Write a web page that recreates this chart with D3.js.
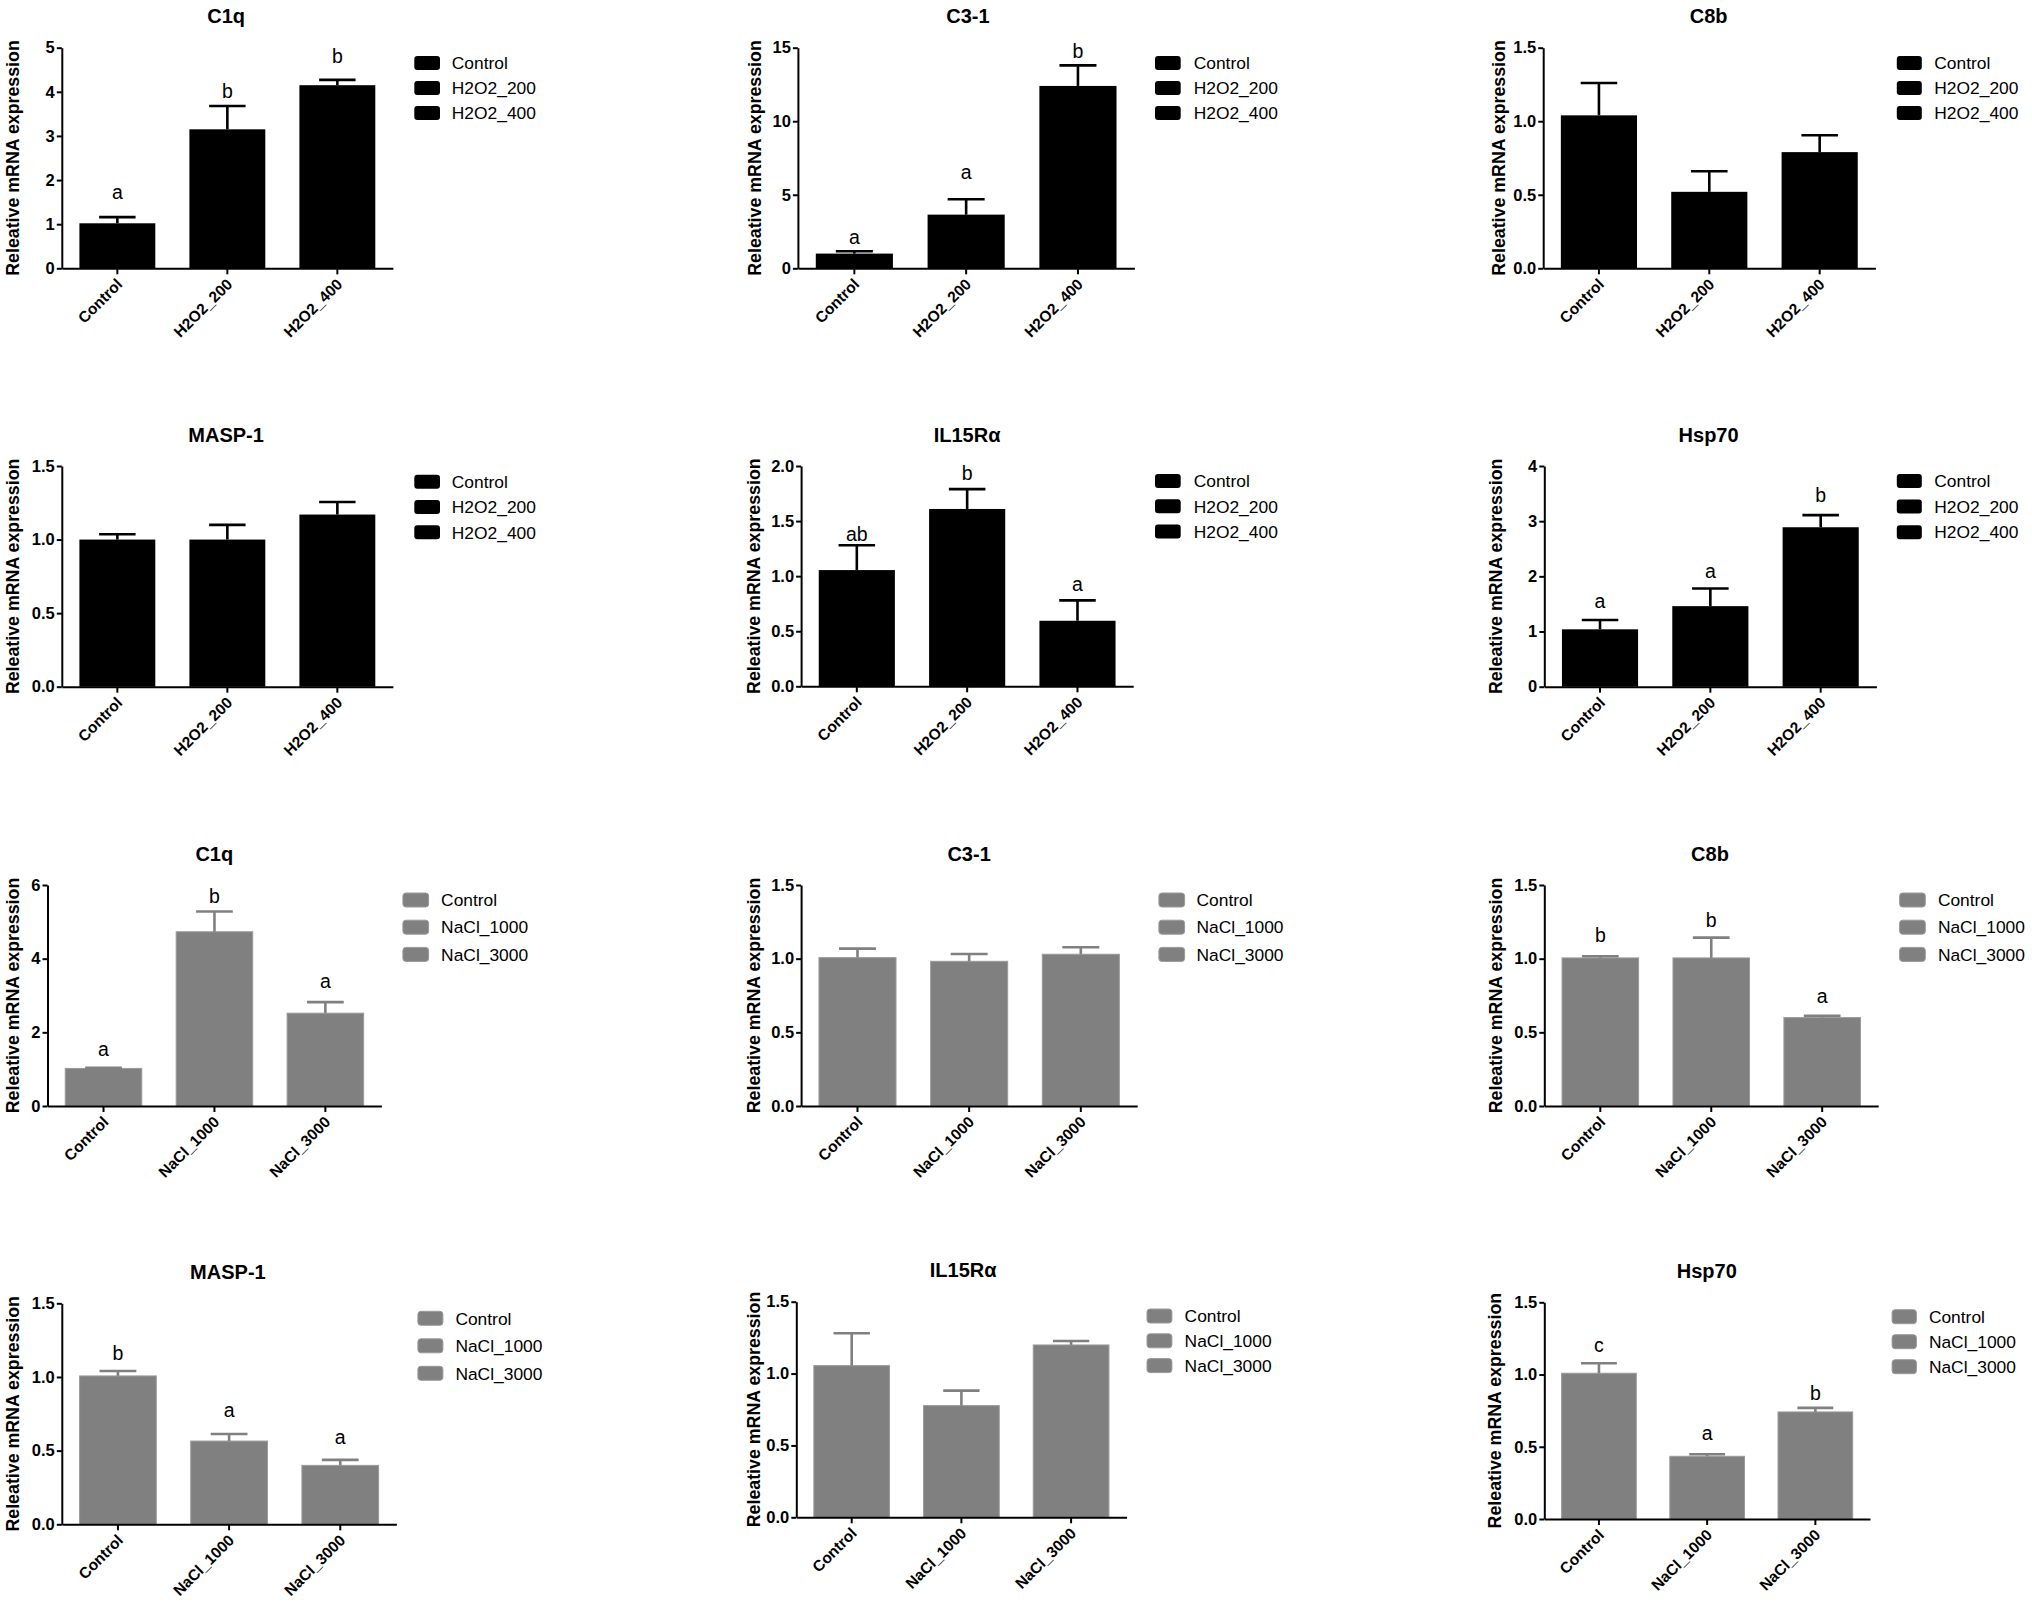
<!DOCTYPE html>
<html>
<head>
<meta charset="utf-8">
<script src="https://cdn.jsdelivr.net/npm/d3@7/dist/d3.min.js"></script>
<style>
  html, body { margin: 0; padding: 0; background: #fff; }
  svg { display: block; }
  text { font-family: "Liberation Sans", Arial, Helvetica, sans-serif; }
</style>
</head>
<body>
<svg id="chart" width="2032" height="1608"></svg>
<script>
// ---------------- DATA ----------------
const genes = ["C1q", "C3-1", "C8b", "MASP-1", "IL15Rα", "Hsp70"];
const h2o2Groups = ["Control", "H2O2_200", "H2O2_400"];
const naclGroups = ["Control", "NaCl_1000", "NaCl_3000"];
const yTitle = "Releative mRNA expression";

// H2O2 experiment (black bars)
const h2o2Mean = [
  [1.02, 3.15, 4.15],
  [1.00, 3.65, 12.4],
  [1.04, 0.52, 0.79],
  [1.00, 1.00, 1.17],
  [1.055, 1.61, 0.595],
  [1.04, 1.46, 2.89]
];
const h2o2Err = [
  [0.14, 0.53, 0.12],
  [0.16, 1.05, 1.40],
  [0.22, 0.14, 0.115],
  [0.036, 0.10, 0.085],
  [0.225, 0.18, 0.185],
  [0.17, 0.32, 0.22]
];
const h2o2Letters = [
  ["a", "b", "b"],
  ["a", "a", "b"],
  null,
  null,
  ["ab", "b", "a"],
  ["a", "a", "b"]
];
const h2o2LetterPos = [
  [1.70, 3.99, 4.79],
  [2.09, 6.49, 14.72],
  null,
  null,
  [1.37, 1.93, 0.92],
  [1.53, 2.07, 3.45]
];
const h2o2YMax = [5, 15, 1.5, 1.5, 2.0, 4];
const h2o2YStep = [1, 5, 0.5, 0.5, 0.5, 1];

// NaCl experiment (grey bars)
const naclMean = [
  [1.02, 4.73, 2.52],
  [1.007, 0.982, 1.03],
  [1.005, 1.005, 0.60],
  [1.007, 0.565, 0.40],
  [1.055, 0.777, 1.199],
  [1.009, 0.434, 0.741]
];
const naclErr = [
  [0.02, 0.55, 0.30],
  [0.061, 0.05, 0.047],
  [0.011, 0.138, 0.013],
  [0.033, 0.048, 0.037],
  [0.225, 0.104, 0.028],
  [0.069, 0.014, 0.028]
];
const naclLetters = [
  ["a", "b", "a"],
  null,
  ["b", "b", "a"],
  ["b", "a", "a"],
  null,
  ["c", "a", "b"]
];
const naclLetterPos = [
  [1.52, 5.68, 3.36],
  null,
  [1.154, 1.258, 0.742],
  [1.154, 0.769, 0.588],
  null,
  [1.195, 0.587, 0.868]
];
const naclYMax = [6, 1.5, 1.5, 1.5, 1.5, 1.5];
const naclYStep = [2, 0.5, 0.5, 0.5, 0.5, 0.5];

// ---------------- LAYOUT (positions only) ----------------
// x0,x1: axis extent; top,bottom: y range; tx: title centre; lx: y-title centre;
// sx: legend swatch x; sw: swatch width; gx: legend text x; ly: first legend row; lg: legend gap
const layoutH2O2 = [
  {x0: 61.8,   x1: 392.9,  top: 47.7,   bottom: 268.3,  tx: 226.1,  lx: 13.6,  sx: 414.3,  sw: 25.7, gx: 451.8,  ly: 63,     lg: 25},
  {x0: 797.9,  x1: 1134.4, top: 47.7,   bottom: 268.3,  tx: 967.9,  lx: 755.6, sx: 1155,   sw: 25.7, gx: 1193.7, ly: 63,     lg: 25},
  {x0: 1543.2, x1: 1875.4, top: 47.7,   bottom: 268.3,  tx: 1708.6, lx: 1499.6,sx: 1896.8, sw: 25,   gx: 1934.3, ly: 63,     lg: 25},
  {x0: 61.8,   x1: 392.9,  top: 466,    bottom: 686.7,  tx: 226.1,  lx: 13.6,  sx: 414.3,  sw: 25.7, gx: 451.8,  ly: 481.7,  lg: 25.3},
  {x0: 801.1,  x1: 1133.2, top: 466,    bottom: 686.3,  tx: 967.1,  lx: 754.8, sx: 1155,   sw: 25.7, gx: 1193.7, ly: 481,    lg: 25.3},
  {x0: 1544.3, x1: 1876.4, top: 466,    bottom: 686.7,  tx: 1708.6, lx: 1496.8,sx: 1896.8, sw: 25,   gx: 1934.3, ly: 481,    lg: 25.6}
];
const layoutNaCl = [
  {x0: 47.5,   x1: 381.4,  top: 885,    bottom: 1106,   tx: 214.3,  lx: 13.6,  sx: 402.9,  sw: 25.7, gx: 441.1,  ly: 900,    lg: 27.2},
  {x0: 801.1,  x1: 1137.2, top: 885,    bottom: 1106,   tx: 969.1,  lx: 754.8, sx: 1158.9, sw: 25.7, gx: 1196.5, ly: 900,    lg: 27.2},
  {x0: 1544.3, x1: 1878.2, top: 885,    bottom: 1106,   tx: 1710,   lx: 1496.8,sx: 1899.6, sw: 25.7, gx: 1937.9, ly: 900,    lg: 27.2},
  {x0: 61.8,   x1: 396.4,  top: 1303.3, bottom: 1524.3, tx: 227.9,  lx: 13.6,  sx: 417.9,  sw: 25,   gx: 455.4,  ly: 1318.3, lg: 27.5},
  {x0: 796.3,  x1: 1126.5, top: 1301.7, bottom: 1517.3, tx: 963.2,  lx: 754.8, sx: 1147,   sw: 24.9, gx: 1184.6, ly: 1316,   lg: 24.8},
  {x0: 1544.3, x1: 1870,   top: 1302.3, bottom: 1519,   tx: 1706.8, lx: 1496,  sx: 1892.1, sw: 24.3, gx: 1928.9, ly: 1316.7, lg: 25}
];

// ---------------- DRAW ----------------
const svg = d3.select("#chart");
svg.append("rect").attr("width", 2032).attr("height", 1608).attr("fill", "#fff");
const FONT = '"Liberation Sans", Arial, Helvetica, sans-serif';

function drawPanel(gene, groups, means, errs, letters, letterPos, yMax, yStep, L, color, edge) {
  const g = svg.append("g");
  const x = d3.scaleBand().domain(groups).range([L.x0, L.x1]).paddingInner(0.31).paddingOuter(0.16);
  const y = d3.scaleLinear().domain([0, yMax]).range([L.bottom, L.top]);
  const bw = x.bandwidth();
  const rows = groups.map((k, i) => ({k, m: means[i], e: errs[i], lab: letters ? letters[i] : null, lp: letterPos ? letterPos[i] : null}));

  // title
  g.append("text").attr("x", L.tx).attr("y", L.top - 24.5)
    .attr("text-anchor", "middle").attr("font-weight", "bold").attr("font-size", 20)
    .attr("fill", "#000").text(gene);

  // y title
  g.append("text")
    .attr("transform", `translate(${L.lx},${(L.top + L.bottom) / 2}) rotate(-90)`)
    .attr("dy", "0.28em")
    .attr("text-anchor", "middle").attr("font-weight", "bold").attr("font-size", 17.8)
    .attr("fill", "#000").text(yTitle);

  // bars
  g.selectAll("rect.bar").data(rows).join("rect").attr("class", "bar")
    .attr("x", d => x(d.k)).attr("width", bw)
    .attr("y", d => y(d.m)).attr("height", d => y(0) - y(d.m))
    .attr("fill", color)
    .attr("stroke", edge).attr("stroke-width", edge === "none" ? 0 : 1);

  // error bars (upper only)
  const eg = g.selectAll("g.err").data(rows).join("g").attr("class", "err");
  eg.append("line")
    .attr("x1", d => x(d.k) + bw / 2).attr("x2", d => x(d.k) + bw / 2)
    .attr("y1", d => y(d.m)).attr("y2", d => y(d.m + d.e))
    .attr("stroke", color).attr("stroke-width", 2.6);
  eg.append("line")
    .attr("x1", d => x(d.k) + bw / 2 - bw * 0.24).attr("x2", d => x(d.k) + bw / 2 + bw * 0.24)
    .attr("y1", d => y(d.m + d.e)).attr("y2", d => y(d.m + d.e))
    .attr("stroke", color).attr("stroke-width", 2.6);

  // significance letters
  g.selectAll("text.sig").data(rows.filter(d => d.lab)).join("text").attr("class", "sig")
    .attr("x", d => x(d.k) + bw / 2).attr("y", d => y(d.lp) + 6)
    .attr("text-anchor", "middle").attr("font-size", 19.5).attr("fill", "#000")
    .text(d => d.lab);

  // axes
  const fmt = yStep < 1 ? d3.format(".1f") : d3.format("d");
  const ticks = d3.range(0, yMax + yStep / 2, yStep);
  const ya = g.append("g").attr("transform", `translate(${L.x0},0)`)
    .call(d3.axisLeft(y).tickValues(ticks).tickFormat(fmt).tickSize(5).tickPadding(2).tickSizeOuter(0));
  ya.select(".domain").attr("stroke", "#000").attr("stroke-width", 2);
  ya.selectAll(".tick line").attr("stroke", "#000").attr("stroke-width", 2);
  ya.selectAll(".tick text").attr("font-size", 16.5).attr("font-weight", "bold").attr("fill", "#000")
    .attr("font-family", FONT);

  const xa = g.append("g").attr("transform", `translate(0,${L.bottom})`)
    .call(d3.axisBottom(x).tickSize(6).tickSizeOuter(0));
  xa.select(".domain").attr("stroke", "#000").attr("stroke-width", 2);
  xa.selectAll(".tick line").attr("stroke", "#000").attr("stroke-width", 2);
  xa.selectAll(".tick text")
    .attr("font-size", 15.5).attr("font-weight", "bold").attr("fill", "#000")
    .attr("font-family", FONT)
    .attr("text-anchor", "end")
    .attr("x", null).attr("y", null).attr("dy", null)
    .attr("transform", "translate(6,17) rotate(-45)");

  // legend
  const lg = g.selectAll("g.leg").data(groups).join("g").attr("class", "leg")
    .attr("transform", (d, i) => `translate(0,${L.ly + i * L.lg})`);
  lg.append("rect").attr("x", L.sx).attr("y", -7).attr("width", L.sw).attr("height", 14)
    .attr("rx", 3).attr("fill", color)
    .attr("stroke", edge).attr("stroke-width", edge === "none" ? 0 : 1);
  lg.append("text").attr("x", L.gx).attr("y", 6.2).attr("font-size", 17.4).attr("fill", "#000")
    .text(d => d);
}

genes.forEach((gene, i) => {
  drawPanel(gene, h2o2Groups, h2o2Mean[i], h2o2Err[i], h2o2Letters[i], h2o2LetterPos[i],
            h2o2YMax[i], h2o2YStep[i], layoutH2O2[i], "#000", "none");
  drawPanel(gene, naclGroups, naclMean[i], naclErr[i], naclLetters[i], naclLetterPos[i],
            naclYMax[i], naclYStep[i], layoutNaCl[i], "#808080", "#9a9a9a");
});
</script>
</body>
</html>
